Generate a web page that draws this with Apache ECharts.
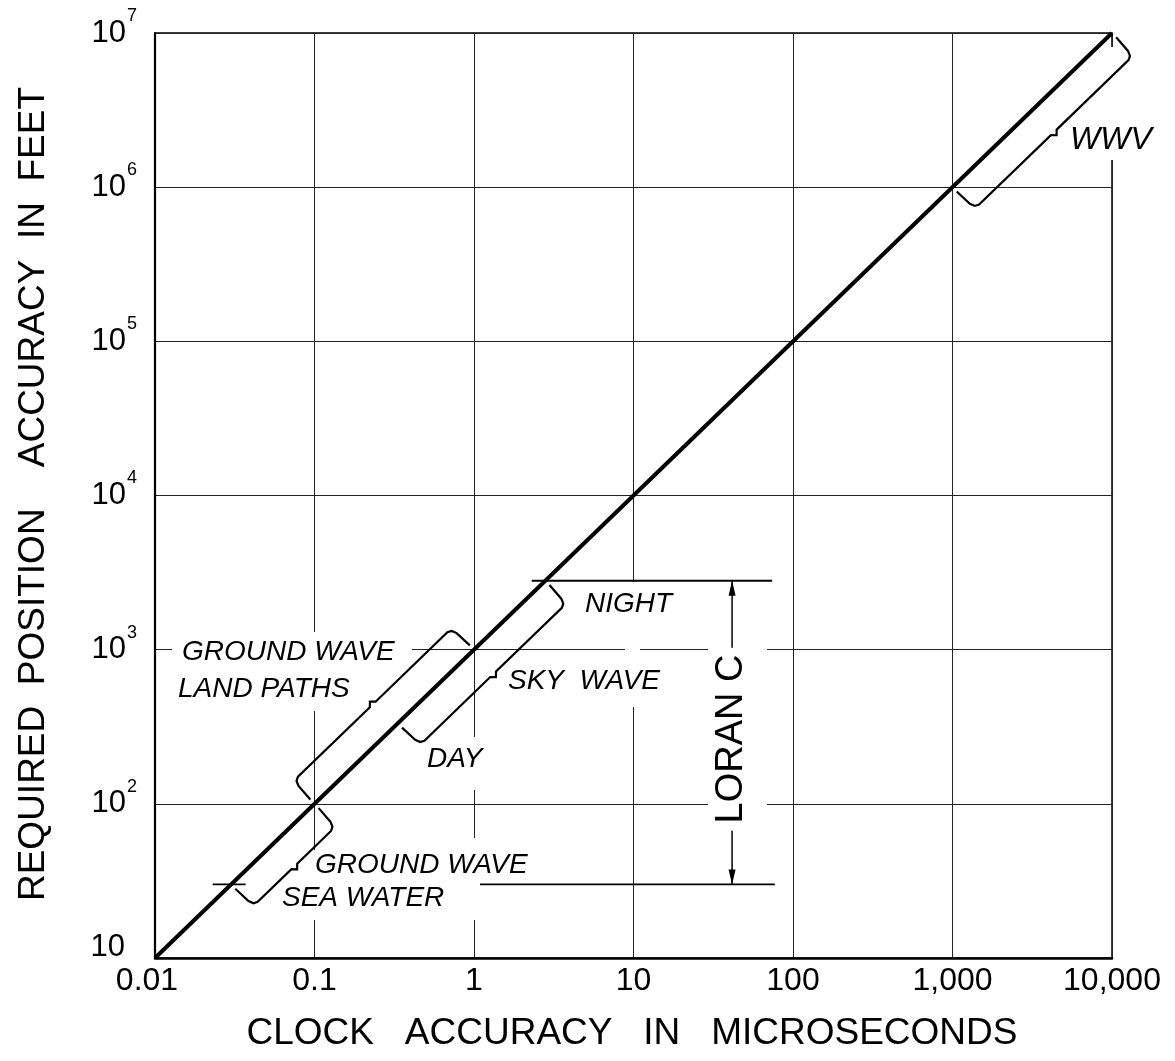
<!DOCTYPE html>
<html><head><meta charset="utf-8">
<script src="https://cdn.jsdelivr.net/npm/echarts@6/dist/echarts.min.js"></script>
<style>html,body{margin:0;padding:0;background:#fff}#c{width:1175px;height:1061px}</style>
</head><body><div id="c"></div>
<script>
// ---- axis ticks ----
const xTickValues = [0.01, 0.1, 1, 10, 100, 1000, 10000];
const xTickLabels = ['0.01', '0.1', '1', '10', '100', '1,000', '10,000'];
const yTickExponents = [1, 2, 3, 4, 5, 6, 7];
// ---- main relation: clock accuracy (µs) vs position accuracy (ft) ----
const lineX = [0.01, 10000];
const lineY = [10, 10000000];
const feetPerMicrosecond = 1000;
// ---- braces along the line (µs range) ----
const braceNames = ['WWV', 'GROUND WAVE LAND PATHS', 'SKY WAVE', 'GROUND WAVE SEA WATER'];
const braceFrom = [1000, 0.1, 0.333, 0.03];
const braceTo = [10000, 1, 2.8, 0.1];
const braceSide = [1, -1, 1, 1]; // 1 = below/right of line, -1 = above/left
// ---- LORAN C reference levels (ft) ----
const loranLevels = [2800, 30];
const loranLineFrom = [2.3, 1.09];
const loranLineTo = [74, 77];
const seaTickY = 30;
const seaTickX = [0.023, 0.037];
const arrowX = 41.5;
const arrowTip = [2800, 30];
const arrowTail = [1030, 67];

const FONT = '"Liberation Sans", Arial, sans-serif';

const braceData = braceFrom.map((f, i) => [f, f * feetPerMicrosecond, braceTo[i], braceTo[i] * feetPerMicrosecond, braceSide[i]]);
const segData = loranLevels.map((y, i) => [loranLineFrom[i], y, loranLineTo[i], y]);
segData.push([seaTickX[0], seaTickY, seaTickX[1], seaTickY]);
const arrowData = arrowTip.map((t, i) => [arrowX, t, arrowX, arrowTail[i]]);

function renderBrace(params, api) {
  const p0 = api.coord([api.value(0), api.value(1)]);
  const p1 = api.coord([api.value(2), api.value(3)]);
  const side = api.value(4);
  const dx = p1[0] - p0[0], dy = p1[1] - p0[1];
  const L = Math.hypot(dx, dy);
  const d = [dx / L, dy / L];
  const n = [-d[1] * side, d[0] * side];
  const P = (u, v) => [p0[0] + d[0] * u + n[0] * v, p0[1] + d[1] * u + n[1] * v];
  const vt = 6, vd = 31, m = L / 2, nh = 4;
  const pts = [
    P(0, vt), P(1, vd - 7), P(3, vd - 2), P(7, vd),
    P(m - 4, vd), P(m, vd + nh), P(m + 4, vd),
    P(L - 7, vd), P(L - 3, vd - 2), P(L - 1, vd - 7), P(L, vt)
  ];
  return { type: 'polyline', shape: { points: pts }, style: { stroke: '#000', lineWidth: 2.2, fill: null } };
}
function renderSeg(params, api) {
  const p0 = api.coord([api.value(0), api.value(1)]);
  const p1 = api.coord([api.value(2), api.value(3)]);
  return { type: 'line', shape: { x1: p0[0], y1: p0[1], x2: p1[0], y2: p1[1] }, style: { stroke: '#000', lineWidth: 1.8 } };
}
function renderArrow(params, api) {
  const pt = api.coord([api.value(0), api.value(1)]);
  const ps = api.coord([api.value(2), api.value(3)]);
  const dx = pt[0] - ps[0], dy = pt[1] - ps[1];
  const L = Math.hypot(dx, dy);
  const d = [dx / L, dy / L], n = [-d[1], d[0]];
  const hl = 15, hw = 3.5;
  const b = [pt[0] - d[0] * hl, pt[1] - d[1] * hl];
  return { type: 'group', children: [
    { type: 'line', shape: { x1: ps[0], y1: ps[1], x2: pt[0], y2: pt[1] }, style: { stroke: '#000', lineWidth: 1.5 } },
    { type: 'polygon', shape: { points: [pt, [b[0] + n[0] * hw, b[1] + n[1] * hw], [b[0] - n[0] * hw, b[1] - n[1] * hw]] }, style: { fill: '#000' } }
  ] };
}

function whiteRect(x, y, w, h) {
  return { type: 'rect', z: 1, shape: { x: x, y: y, width: w, height: h }, style: { fill: '#fff' }, silent: true };
}
function label(text, x, y, size, opts) {
  opts = opts || {};
  return { type: 'text', z: 10, x: x, y: y, rotation: opts.rotation || 0,
    style: { text: text, font: (opts.style || 'italic') + ' ' + size + 'px ' + FONT, fill: '#000',
      textAlign: opts.align || 'left', textVerticalAlign: 'middle' } };
}

const chart = echarts.init(document.getElementById('c'), null, { renderer: 'canvas' });
chart.setOption({
  animation: false,
  backgroundColor: '#fff',
  grid: { left: 155, right: 63, top: 33, bottom: 103, show: true, borderColor: '#000', borderWidth: 1.5, containLabel: false },
  xAxis: {
    type: 'log', logBase: 10, min: xTickValues[0], max: xTickValues[xTickValues.length - 1], splitNumber: 6,
    axisLine: { show: true, lineStyle: { color: '#000', width: 2.5 } },
    axisTick: { show: false },
    splitLine: { show: true, lineStyle: { color: '#222', width: 1 } },
    axisLabel: {
      show: true, margin: 7, color: '#000', fontFamily: FONT, fontSize: 32, showMinLabel: true, showMaxLabel: true,
      formatter: function (v) {
        const i = Math.round(Math.log10(v)) + 2;
        if (i === 0) return '{f|' + xTickLabels[i] + '}';
        return xTickLabels[i] || '';
      },
      rich: { f: { fontSize: 32, fontFamily: FONT, color: '#000', padding: [0, 16, 0, 0] } }
    }
  },
  yAxis: {
    type: 'log', logBase: 10, min: Math.pow(10, yTickExponents[0]), max: Math.pow(10, yTickExponents[yTickExponents.length - 1]), splitNumber: 6,
    axisLine: { show: true, lineStyle: { color: '#000', width: 2.2 } },
    axisTick: { show: false },
    splitLine: { show: true, lineStyle: { color: '#222', width: 1 } },
    axisLabel: {
      show: true, margin: 18, color: '#000', showMinLabel: true, showMaxLabel: true,
      formatter: function (v) {
        const e = Math.round(Math.log10(v));
        if (e === 1) return '{b|10}';
        return '{a|10}{s|' + e + '}';
      },
      rich: {
        a: { fontSize: 31, fontFamily: FONT, color: '#000', lineHeight: 52 },
        s: { fontSize: 18, fontFamily: FONT, color: '#000', lineHeight: 18, verticalAlign: 'top', padding: [0, 0, 0, 1] },
        b: { fontSize: 31, fontFamily: FONT, color: '#000', lineHeight: 52, padding: [0, 12, 22, 0] }
      }
    }
  },
  graphic: { elements: [
    whiteRect(172, 632, 240, 79),
    whiteRect(282, 850, 263, 70),
    whiteRect(465, 838, 15, 82),
    whiteRect(425, 737, 65, 53),
    whiteRect(625, 582, 15, 125),
    whiteRect(708, 640, 59, 175),
    whiteRect(1104, 47, 16, 113),
    label('WWV', 1070, 140, 32),
    label('GROUND WAVE', 182, 652, 28),
    label('LAND PATHS', 178, 689, 28),
    label('DAY', 427, 759, 28),
    label('SKY  WAVE', 508, 681, 28),
    label('NIGHT', 585, 604, 28),
    label('GROUND WAVE', 315, 865, 28),
    label('SEA WATER', 282, 898, 28),
    label('LORAN C', 732, 739, 38, { style: 'normal', align: 'center', rotation: Math.PI / 2 }),
    label('REQUIRED  POSITION    ACCURACY  IN  FEET', 34, 494, 37, { style: 'normal', align: 'center', rotation: Math.PI / 2 }),
    label('CLOCK   ACCURACY   IN   MICROSECONDS', 632, 1034, 37, { style: 'normal', align: 'center' })
  ] },
  series: [
    {
      name: 'Clock vs position accuracy', type: 'line', z: 3, symbol: 'none', silent: true,
      data: lineX.map((x, i) => [x, lineY[i]]),
      lineStyle: { color: '#000', width: 4 }
    },
    {
      name: 'Braces', type: 'custom', z: 3, clip: false, silent: true,
      encode: { x: [0, 2], y: [1, 3] },
      data: braceData, renderItem: renderBrace
    },
    {
      name: 'LORAN C levels', type: 'custom', z: 3, clip: false, silent: true,
      encode: { x: [0, 2], y: [1, 3] },
      data: segData, renderItem: renderSeg
    },
    {
      name: 'LORAN C arrows', type: 'custom', z: 3, clip: false, silent: true,
      encode: { x: [0, 2], y: [1, 3] },
      data: arrowData, renderItem: renderArrow
    }
  ]
});
</script></body></html>
